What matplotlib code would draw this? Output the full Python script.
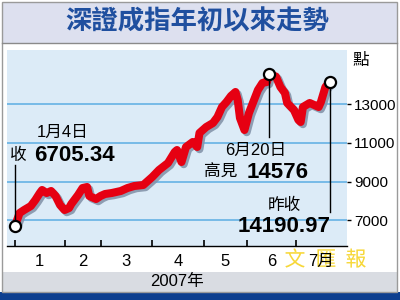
import matplotlib
matplotlib.use("Agg")
import matplotlib.pyplot as plt
import matplotlib.patheffects as pe
from matplotlib.patches import Rectangle

plt.rcParams['font.family'] = ['Liberation Sans', 'Noto Sans CJK TC']

# 深證成指 收市點數 (交易日序號, 點)
days = [0, 2, 4, 7, 9, 11, 12, 14, 16, 18, 20, 22, 24, 25, 28, 30, 32, 33,
        36, 38, 40, 43, 47, 50, 53, 57, 59, 61, 64, 68, 71, 72, 74, 76, 79,
        81, 82, 85, 88, 90, 92, 94, 96, 98, 99, 100, 102, 104, 108, 110, 112,
        113, 116, 118, 120, 121, 124, 126, 127, 128, 131, 133, 135, 136, 138,
        140]
points = [6705.34, 7364, 7519, 7727, 8039, 8403, 8558, 8403, 8507, 8247, 7779,
          7519, 7623, 7831, 8299, 8662, 8714, 8247, 8091, 8247, 8351, 8403,
          8507, 8662, 8766, 8818, 9026, 9234, 9597, 9961, 10532, 10636, 10013,
          10792, 11052, 10792, 11520, 11831, 12039, 12351, 12870, 13130, 13442,
          13649, 13234, 12299, 11675, 12558, 13753, 14117, 14169, 14576, 14450,
          13909, 13597, 13078, 12714, 12195, 12091, 12870, 13078, 12974, 12870,
          13130, 13909, 14190.97]

month_starts = [0, 22, 38, 61, 84, 103, 125]
month_end = 147
month_labels = ['1', '2', '3', '4', '5', '6', '7月']
yticks = [7000, 9000, 11000, 13000]

W, H = 400, 300


def fx(x):
    return x / W


def fy(y):
    return 1 - y / H


fig = plt.figure(figsize=(4, 3), dpi=100, facecolor='white')

# background bands
fig.patches.append(Rectangle((fx(2), fy(43)), fx(395), 41 / H, transform=fig.transFigure,
                             facecolor='#dde0ef', edgecolor='none', zorder=0))
fig.patches.append(Rectangle((fx(2), fy(292)), fx(395), 20 / H, transform=fig.transFigure,
                             facecolor='#d9dce2', edgecolor='none', zorder=0))
fig.patches.append(Rectangle((0, 0), 1, 8 / H, transform=fig.transFigure,
                             facecolor='#0d3f8f', edgecolor='none', zorder=0))
fig.patches.append(Rectangle((fx(2), fy(292)), fx(395), 290 / H, transform=fig.transFigure,
                             facecolor='none', edgecolor='#9a9a9a', lw=1, zorder=1))
fig.lines.append(plt.Line2D([fx(2), fx(397)], [fy(43), fy(43)], transform=fig.transFigure,
                            color='#8a8a8a', lw=1))

fig.text(fx(197), fy(22), '深證成指年初以來走勢', ha='center', va='center',
         fontsize=19, fontweight='bold', color='#1f4f9f', family='Noto Sans CJK TC')

ax = fig.add_axes([fx(7), fy(246), 340 / W, 196 / H], zorder=2)
ax.set_facecolor('#dcebf7')
ax.set_xlim(-3.6, 147.6)
ax.set_ylim(5650, 15830)
for s in ['top', 'left', 'right']:
    ax.spines[s].set_visible(False)
ax.spines['bottom'].set_linewidth(1)

ax.yaxis.tick_right()
ax.set_yticks(yticks)
ax.set_yticklabels([str(v) for v in yticks], fontsize=11)
ax.tick_params(axis='y', length=3, width=1, pad=2, colors='black')
ax.grid(axis='y', color='#66b2e4', lw=1.2)
ax.set_axisbelow(True)

ax.set_xticks(month_starts)
ax.set_xticklabels([])
ax.tick_params(axis='x', which='major', direction='in', length=4, width=1.2)
ends = month_starts[1:] + [month_end]
mids = [(a + b) / 2 for a, b in zip(month_starts, ends)]
ax.set_xticks(mids, minor=True)
ax.set_xticklabels(month_labels, minor=True, fontsize=12)
ax.tick_params(axis='x', which='minor', length=0, pad=6)

ax.plot(days, points, color='#e60012', lw=5.8, solid_joinstyle='round',
        solid_capstyle='round', zorder=3,
        path_effects=[pe.SimpleLineShadow(offset=(1.6, -1.6), shadow_color='#8595ab', alpha=0.9),
                      pe.Normal()])

i_peak = points.index(max(points))
marks = [(days[0], points[0], 9857), (days[i_peak], points[i_peak], 11312),
         (days[-1], points[-1], 7416)]
for d, v, v_end in marks:
    ax.plot([d, d], [v, v_end], color='black', lw=1, zorder=4)
    ax.plot(d, v, 'o', ms=8, mfc='white', mec='black', mew=1.6, zorder=5)

big = dict(fontsize=16, fontweight='bold', family='Liberation Sans', zorder=5)
small = dict(fontsize=12, zorder=5)
fig.text(fx(63), fy(132), '1月4日', ha='center', va='center', **small)
fig.text(fx(18), fy(155), '收', ha='center', va='center', **small)
fig.text(fx(34), fy(155), '%.2f' % points[0], ha='left', va='center', **big)
fig.text(fx(256), fy(150), '6月20日', ha='center', va='center', **small)
fig.text(fx(221), fy(172), '高見', ha='center', va='center', **small)
fig.text(fx(278), fy(172), '%d' % points[i_peak], ha='center', va='center', **big)
fig.text(fx(284), fy(205), '昨收', ha='center', va='center', **small)
fig.text(fx(284), fy(226), '%.2f' % points[-1], ha='center', va='center', **big)

fig.text(fx(361), fy(60), '點', ha='center', va='center', fontsize=12)
fig.text(fx(177), fy(281), '2007年', ha='center', va='center', fontsize=12)

# watermark, drawn under the axes so the month label stays readable
for ch, x in zip('文匯報', [295, 326, 356]):
    fig.text(fx(x), fy(260), ch, ha='center', va='center', fontsize=15,
             color='#f6d21a', alpha=0.85, family='Noto Sans CJK TC', zorder=1,
             path_effects=[pe.withStroke(linewidth=2, foreground='white')])

fig.savefig('out.png', dpi=100, facecolor='white')
